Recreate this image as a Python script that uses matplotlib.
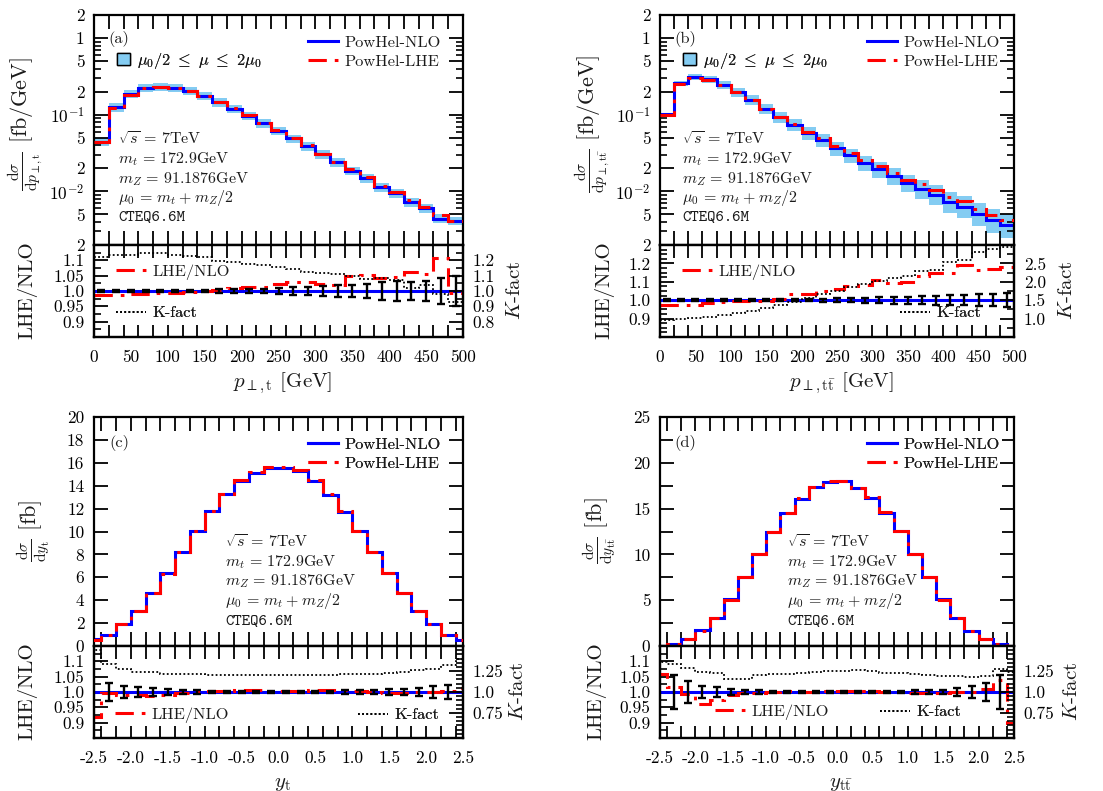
import numpy as np
import matplotlib
matplotlib.use("Agg")
import matplotlib.pyplot as plt
from matplotlib.lines import Line2D
from matplotlib.patches import Patch

plt.rcParams.update({
    "font.family": "serif",
    "font.serif": ["cmr10"],
    "mathtext.fontset": "cm",
    "axes.formatter.use_mathtext": True,
    "axes.unicode_minus": False,
    "text.color": "#1a1a1a",
})

# ---------------------------------------------------------------- data
pt_edges = np.arange(0, 501, 20)
y_edges = np.round(np.arange(-2.6, 2.61, 0.2), 1)

# (a) transverse momentum of the top quark [fb/GeV]
nlo_a = [0.044, 0.125, 0.185, 0.225, 0.232, 0.223, 0.204, 0.176, 0.145, 0.120,
         0.097, 0.077, 0.061, 0.049, 0.0387, 0.0305, 0.0239, 0.0186, 0.0148,
         0.0113, 0.0094, 0.0072, 0.0060, 0.0044, 0.0041]
band_hi_a = [0.050, 0.141, 0.209, 0.254, 0.262, 0.252, 0.231, 0.199, 0.164, 0.136,
             0.110, 0.087, 0.069, 0.055, 0.0437, 0.0345, 0.0270, 0.0210, 0.0167,
             0.0128, 0.0106, 0.0081, 0.0068, 0.0050, 0.0046]
band_lo_a = [0.0387, 0.110, 0.163, 0.198, 0.204, 0.196, 0.180, 0.155, 0.128, 0.106,
             0.0854, 0.0678, 0.0537, 0.0431, 0.0341, 0.0268, 0.0210, 0.0164, 0.0130,
             0.0099, 0.0083, 0.0063, 0.0053, 0.0039, 0.0036]
ratio_a = [0.988, 0.986, 0.989, 0.991, 0.995, 0.995, 0.997, 0.999, 1.002, 1.010,
           1.013, 1.013, 1.024, 1.029, 1.030, 1.022, 1.018, 1.048, 1.052, 1.043,
           1.046, 1.062, 1.057, 1.109, 0.995]
kfac_a = [1.22, 1.235, 1.237, 1.245, 1.248, 1.235, 1.23, 1.225, 1.195, 1.19,
          1.175, 1.167, 1.155, 1.145, 1.125, 1.115, 1.113, 1.10, 1.08, 1.085,
          1.075, 1.02, 1.04, 0.98, 0.93]
err_a = [0.003, 0.003, 0.003, 0.003, 0.003, 0.003, 0.004, 0.004, 0.005, 0.006,
         0.007, 0.008, 0.010, 0.012, 0.014, 0.016, 0.018, 0.020, 0.022, 0.028,
         0.032, 0.030, 0.033, 0.043, 0.050]

# (b) transverse momentum of the t-tbar system [fb/GeV]
nlo_b = [0.101, 0.257, 0.308, 0.290, 0.244, 0.196, 0.156, 0.120, 0.0925, 0.0735,
         0.0573, 0.0469, 0.0365, 0.0296, 0.0237, 0.0196, 0.0160, 0.0130, 0.0109,
         0.0091, 0.0073, 0.0063, 0.0051, 0.0042, 0.0036]
band_hi_b = [0.106, 0.278, 0.339, 0.322, 0.276, 0.223, 0.179, 0.139, 0.108, 0.0867,
             0.0682, 0.0563, 0.0442, 0.0361, 0.0294, 0.0245, 0.0203, 0.0166, 0.0142,
             0.0120, 0.0098, 0.0086, 0.0070, 0.0059, 0.0051]
band_lo_b = [0.096, 0.236, 0.280, 0.261, 0.217, 0.172, 0.134, 0.102, 0.0777, 0.0610,
             0.0470, 0.0380, 0.0292, 0.0234, 0.0185, 0.0151, 0.0122, 0.00975, 0.00807,
             0.00664, 0.00526, 0.00447, 0.00357, 0.00290, 0.00245]
ratio_b = [0.975, 0.972, 0.973, 0.985, 0.99, 0.996, 0.995, 0.998, 1.005, 1.036,
           1.036, 1.05, 1.06, 1.078, 1.085, 1.11, 1.095, 1.10, 1.13, 1.15,
           1.15, 1.19, 1.165, 1.17, 1.18]
kfac_b = [0.96, 0.98, 1.02, 1.05, 1.10, 1.16, 1.22, 1.28, 1.36, 1.45,
          1.57, 1.66, 1.76, 1.85, 1.95, 2.03, 2.10, 2.17, 2.28, 2.33,
          2.55, 2.58, 2.80, 2.88, 2.95]
err_b = [0.004, 0.004, 0.004, 0.004, 0.004, 0.004, 0.004, 0.005, 0.005, 0.006,
         0.007, 0.008, 0.010, 0.012, 0.014, 0.016, 0.018, 0.020, 0.022, 0.024,
         0.026, 0.028, 0.031, 0.034, 0.038]

# (c) rapidity of the top quark [fb]
nlo_c = [0.57, 1.00, 1.92, 3.08, 4.65, 6.39, 8.22, 10.03, 11.77, 13.25, 14.39,
         15.14, 15.58, 15.58, 15.29, 14.42, 13.16, 11.71, 10.06, 8.20, 6.39,
         4.65, 3.08, 1.92, 0.96, 0.50]
ratio_c = [0.92, 0.997, 0.99, 0.99, 0.988, 0.99, 0.998, 1.0, 1.002, 1.003, 1.005,
           1.006, 1.004, 1.002, 1.003, 1.005, 1.007, 1.006, 1.002, 1.0, 0.998,
           0.996, 1.0, 1.0, 1.003, 1.014]
kfac_c = [1.50, 1.33, 1.27, 1.24, 1.24, 1.22, 1.22, 1.22, 1.20, 1.20, 1.20,
          1.20, 1.20, 1.20, 1.20, 1.20, 1.20, 1.21, 1.22, 1.22, 1.23,
          1.24, 1.26, 1.28, 1.32, 1.40]
err_c = [0.029, 0.021, 0.015, 0.012, 0.010, 0.007, 0.005, 0.004, 0.004, 0.004,
         0.004, 0.004, 0.004, 0.004, 0.004, 0.004, 0.005, 0.006, 0.007, 0.009,
         0.011, 0.014, 0.019, 0.024]

# (d) rapidity of the t-tbar system [fb]
nlo_d = [0.04, 0.18, 0.75, 1.74, 3.08, 5.08, 7.50, 10.04, 12.47, 14.50, 16.09,
         17.32, 17.94, 17.97, 17.21, 16.20, 14.57, 12.58, 10.08, 7.54, 5.08,
         3.01, 1.63, 0.73, 0.18, 0.04]
ratio_d = [1.06, 1.015, 0.995, 0.962, 0.975, 0.99, 0.998, 0.997, 1.0, 1.002, 1.001,
           1.0, 1.002, 1.003, 1.002, 1.003, 1.001, 0.999, 0.998, 0.998, 0.998,
           1.0, 1.0, 1.01, 1.04, 0.90]
kfac_d = [1.36, 1.33, 1.29, 1.24, 1.23, 1.16, 1.16, 1.20, 1.21, 1.22, 1.23,
          1.24, 1.25, 1.25, 1.26, 1.25, 1.23, 1.23, 1.22, 1.20, 1.19,
          1.19, 1.18, 1.19, 1.28, 1.24]
err_d = [0.057, 0.037, 0.019, 0.015, 0.011, 0.007, 0.005, 0.004, 0.004, 0.004,
         0.004, 0.004, 0.004, 0.004, 0.004, 0.004, 0.004, 0.005, 0.006, 0.008,
         0.012, 0.020, 0.030, 0.054]

pt_ticklabels = ["0", "50", "100", "150", "200", "250", "300", "350", "400", "450", "500"]
y_ticklabels = ["-2.5", "-2.0", "-1.5", "-1.0", "-0.5", "0.0", "0.5", "1.0", "1.5", "2.0", "2.5"]

# ---------------------------------------------------------------- style
BLUE = "#0000ff"
RED = "#ff0000"
BAND = "#84ccf2"
DASHDOT = (0, (6.0, 2.6, 1.2, 2.6))
DOTTED = (0, (1.0, 1.3))
TICK_FS = 12.5
LAB_FS = 15
YLAB_FS = 16
LEG_FS = 11.8
TXT_FS = 11.5

W, H = 1103, 791
fig = plt.figure(figsize=(W / 100, H / 100), dpi=100)


def rect(l, r, t, b):
    return [l / W, 1 - b / H, (r - l) / W, (b - t) / H]


def fig_xy(x, y):
    return (x / W, 1 - y / H)


def frame(ax):
    for s in ax.spines.values():
        s.set_linewidth(1.6)


def legend_at(ax, handles, labels, x, y, hl=1.8, htp=0.42, **kw):
    leg = ax.legend(handles, labels, loc="center left",
                    bbox_to_anchor=fig_xy(x, y), bbox_transform=fig.transFigure,
                    frameon=False, fontsize=LEG_FS, borderpad=0, borderaxespad=0,
                    handlelength=hl, handletextpad=htp, labelspacing=0.25, **kw)
    ax.add_artist(leg)
    return leg


h_nlo = Line2D([], [], color=BLUE, lw=2.2)
h_lhe = Line2D([], [], color=RED, lw=2.2, linestyle=DASHDOT)
h_k = Line2D([], [], color="k", lw=1.3, linestyle=DOTTED)
h_band = Patch(facecolor=BAND, edgecolor="k", lw=1.0)

panels = [
    dict(tag="(a)", x0=94, x1=463, top=15, mid=245, bot=337, kind="pt",
         nlo=nlo_a, hi=band_hi_a, lo=band_lo_a, ratio=ratio_a, kfac=kfac_a, err=err_a,
         ylab=r"$\frac{\mathrm{d}\sigma}{\mathrm{d}p_{\perp,\mathrm{t}}}$ [fb/GeV]",
         xlab=r"$p_{\perp,\mathrm{t}}$ [GeV]",
         rlim=(0.85, 1.15), rt=[0.9, 0.95, 1.0, 1.05, 1.1],
         rtl=["0.9", "0.95", "1.0", "1.05", "1.1"], rminor=0.025,
         klim=(0.7, 1.3), kt=[0.8, 0.9, 1.0, 1.1, 1.2],
         ktl=["0.8", "0.9", "1.0", "1.1", "1.2"], kminor=0.05,
         ylab_x=25, ylab_y=124, rlab_x=27, klab_x=515,
         leg_lhe=(116, 272), leg_k=(116, 313)),
    dict(tag="(b)", x0=660, x1=1014, top=15, mid=245, bot=337, kind="pt",
         nlo=nlo_b, hi=band_hi_b, lo=band_lo_b, ratio=ratio_b, kfac=kfac_b, err=err_b,
         ylab=r"$\frac{\mathrm{d}\sigma}{\mathrm{d}p_{\perp,\mathrm{t\bar{t}}}}$ [fb/GeV]",
         xlab=r"$p_{\perp,\mathrm{t\bar{t}}}$ [GeV]",
         rlim=(0.8, 1.3), rt=[0.9, 1.0, 1.1, 1.2],
         rtl=["0.9", "1.0", "1.1", "1.2"], rminor=0.025,
         klim=(0.5, 3.0), kt=[1.0, 1.5, 2.0, 2.5],
         ktl=["1.0", "1.5", "2.0", "2.5"], kminor=0.25,
         ylab_x=592, ylab_y=124, rlab_x=604, klab_x=1067,
         leg_lhe=(682, 272), leg_k=(900, 313)),
    dict(tag="(c)", x0=94, x1=463, top=417, mid=646, bot=738, kind="y",
         nlo=nlo_c, ratio=ratio_c, kfac=kfac_c, err=err_c,
         ylab=r"$\frac{\mathrm{d}\sigma}{\mathrm{d}y_{\mathrm{t}}}$ [fb]",
         xlab=r"$y_{\mathrm{t}}$", ymax=20, ymaj=2, ymin=None,
         rlim=(0.85, 1.15), rt=[0.9, 0.95, 1.0, 1.05, 1.1],
         rtl=["0.9", "0.95", "1.0", "1.05", "1.1"], rminor=0.025,
         klim=(0.45, 1.55), kt=[0.75, 1.0, 1.25],
         ktl=["0.75", "1.0", "1.25"], kminor=0.05,
         ylab_x=34, ylab_y=531, rlab_x=27, klab_x=518,
         leg_lhe=(115, 715), leg_k=(358, 715)),
    dict(tag="(d)", x0=660, x1=1014, top=417, mid=646, bot=738, kind="y",
         nlo=nlo_d, ratio=ratio_d, kfac=kfac_d, err=err_d,
         ylab=r"$\frac{\mathrm{d}\sigma}{\mathrm{d}y_{\mathrm{t\bar{t}}}}$ [fb]",
         xlab=r"$y_{\mathrm{t\bar{t}}}$", ymax=25, ymaj=5, ymin=2.5,
         rlim=(0.85, 1.15), rt=[0.9, 0.95, 1.0, 1.05, 1.1],
         rtl=["0.9", "0.95", "1.0", "1.05", "1.1"], rminor=0.025,
         klim=(0.45, 1.55), kt=[0.75, 1.0, 1.25],
         ktl=["0.75", "1.0", "1.25"], kminor=0.05,
         ylab_x=600, ylab_y=531, rlab_x=596, klab_x=1072,
         leg_lhe=(715, 712), leg_k=(880, 712)),
]

info_lines = [r"$\sqrt{s}\,=\,7\mathrm{TeV}$",
              r"$m_t\,=\,172.9\mathrm{GeV}$",
              r"$m_Z\,=\,91.1876\mathrm{GeV}$",
              r"$\mu_0\,=\,m_t+m_Z/2$",
              "CTEQ6.6M"]

for p in panels:
    pt = p["kind"] == "pt"
    edges = pt_edges if pt else y_edges
    nlo = np.asarray(p["nlo"])
    ratio = np.asarray(p["ratio"])
    lhe = nlo * ratio
    centers = 0.5 * (edges[:-1] + edges[1:])
    if not pt:
        centers = centers[1:-1]

    ax = fig.add_axes(rect(p["x0"], p["x1"], p["top"], p["mid"]))
    rx = fig.add_axes(rect(p["x0"], p["x1"], p["mid"], p["bot"]))
    kx = rx.twinx()
    for a in (ax, rx, kx):
        frame(a)

    # --- main distribution
    if pt:
        ax.stairs(p["hi"], edges, baseline=p["lo"], fill=True, color=BAND, lw=0, zorder=1)
    ax.stairs(nlo, edges, baseline=None, color=BLUE, lw=2.2, zorder=2)
    ax.stairs(lhe, edges, baseline=None, color=RED, lw=2.2, linestyle=DASHDOT, zorder=3)

    if pt:
        ax.set_xlim(0, 500)
        ax.set_yscale("log")
        ax.set_ylim(2e-3, 2)
        ymaj = [2e-3, 5e-3, 1e-2, 2e-2, 5e-2, 0.1, 0.2, 0.5, 1, 2]
        ylbl = ["2", "5", r"$10^{-2}$", "2", "5", r"$10^{-1}$", "2", "5", "1", "2"]
        ax.set_yticks(ymaj, ylbl)
        ax.set_yticks(np.outer([3, 4, 6, 7, 8, 9], [1e-3, 1e-2, 1e-1]).ravel(), minor=True)
        ax.tick_params(axis="y", which="minor", length=5, width=1.2)
    else:
        ax.set_xlim(-2.5, 2.5)
        ax.set_ylim(0, p["ymax"])
        yt = np.arange(0, p["ymax"] + 0.01, p["ymaj"])
        ax.set_yticks(yt, [f"{v:g}" for v in yt])
        if p["ymin"]:
            ax.set_yticks(np.arange(0, p["ymax"] + 0.01, p["ymin"]), minor=True)
            ax.tick_params(axis="y", which="minor", length=9, width=1.3)
    ax.tick_params(axis="both", which="both", direction="in", top=True, right=True,
                   labelsize=TICK_FS, pad=7)
    ax.tick_params(axis="y", which="major", length=10, width=1.3)
    ax.set_xticks(edges[1:-1], minor=True)
    ax.xaxis.remove_overlapping_locs = False
    ax.set_xticks([])
    ax.tick_params(axis="x", which="minor", length=10, width=1.3)

    # --- ratio panel
    ones = nlo / nlo
    rx.stairs(ones, edges, baseline=None, color=BLUE, lw=2.2, zorder=2)
    rx.stairs(ratio, edges, baseline=None, color=RED, lw=2.2, linestyle=DASHDOT, zorder=3)
    rx.errorbar(centers, np.ones_like(centers), yerr=p["err"], fmt="none", ecolor="k",
                elinewidth=1.7, capsize=3.2, capthick=1.7, zorder=4)
    kx.stairs(p["kfac"], edges, baseline=None, color="k", lw=1.3, linestyle=DOTTED)

    rx.set_xlim(ax.get_xlim())
    rx.set_ylim(*p["rlim"])
    kx.set_ylim(*p["klim"])
    if pt:
        rx.set_xticks(np.arange(0, 501, 50), pt_ticklabels)
    else:
        rx.set_xticks(np.arange(-2.5, 2.51, 0.5), y_ticklabels)
    rx.set_xticks(edges[1:-1], minor=True)
    rx.xaxis.remove_overlapping_locs = False
    rx.tick_params(axis="x", which="major", length=0, labelsize=TICK_FS, pad=9)
    rx.tick_params(axis="x", which="minor", direction="in", length=9, width=1.3,
                   top=True, bottom=True)
    rx.set_yticks(p["rt"], p["rtl"])
    rmin = np.arange(p["rlim"][0], p["rlim"][1] + 1e-9, p["rminor"])
    rx.set_yticks(rmin, minor=True)
    rx.tick_params(axis="y", which="both", direction="in", left=True, right=False,
                   labelsize=TICK_FS, pad=7)
    rx.tick_params(axis="y", which="major", length=10, width=1.3)
    rx.tick_params(axis="y", which="minor", length=5, width=1.2)

    kx.set_yticks(p["kt"], p["ktl"])
    kmin = np.arange(p["klim"][0], p["klim"][1] + 1e-9, p["kminor"])
    kx.set_yticks(kmin, minor=True)
    kx.tick_params(axis="y", which="both", direction="in", left=False, right=True,
                   labelsize=TICK_FS, pad=7)
    kx.tick_params(axis="y", which="major", length=10, width=1.3)
    kx.tick_params(axis="y", which="minor", length=5, width=1.2)

    # --- axis titles
    cx = 0.5 * (p["x0"] + p["x1"])
    fig.text(*fig_xy(p["ylab_x"], p["ylab_y"]), p["ylab"], rotation=90,
             ha="center", va="center", fontsize=YLAB_FS)
    fig.text(*fig_xy(p["rlab_x"], 0.5 * (p["mid"] + p["bot"]) - 1), "LHE/NLO",
             rotation=90, ha="center", va="center", fontsize=LAB_FS)
    fig.text(*fig_xy(p["klab_x"], 0.5 * (p["mid"] + p["bot"]) - 1), r"$K$-fact",
             rotation=90, ha="center", va="center", fontsize=LAB_FS)
    fig.text(*fig_xy(cx + 4, p["bot"] + 46), p["xlab"], ha="center", va="center",
             fontsize=LAB_FS)

    # --- annotations
    tx = p["x0"] + (24 if pt else 131) if p["x0"] < 500 else p["x0"] + (22 if pt else 127)
    ty = [139, 159, 179, 198, 218] if pt else [542, 562, 581, 601, 622]
    for line, yy in zip(info_lines, ty):
        fam = "cmtt10" if line.startswith("CTEQ") else "cmr10"
        fig.text(*fig_xy(tx, yy), line, ha="left", va="center", fontsize=TXT_FS,
                 family=fam)
    tag_y = 39 if pt else 443
    fig.text(*fig_xy(p["x0"] + 25, tag_y), p["tag"], ha="center", va="center",
             fontsize=LEG_FS)

    # --- legends
    lx = p["x0"] + (214 if p["x0"] < 500 else 207)
    ly = 52 if pt else 454
    legend_at(ax, [h_nlo, h_lhe], ["PowHel-NLO", "PowHel-LHE"], lx, ly)
    if pt:
        legend_at(ax, [h_band], [r"$\mu_0/2\ \leq\ \mu\ \leq\ 2\mu_0$"],
                  p["x0"] + 23, 61, hl=0.8, htp=0.45, handleheight=0.75)
    legend_at(kx, [h_lhe], ["LHE/NLO"], *p["leg_lhe"])
    legend_at(kx, [h_k], ["K-fact"], *p["leg_k"])

fig.savefig("out.png", dpi=100)
